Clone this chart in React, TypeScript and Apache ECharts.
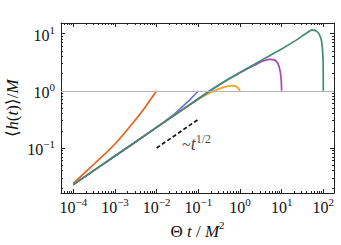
import React, { useEffect, useRef } from "react";
import * as echarts from "echarts";

// axis extents in log10 units
const X_MIN = -4.296;
const X_MAX = 2.257;
const Y_MIN = -1.787;
const Y_MAX = 1.185;

const xDecades = [-4, -3, -2, -1, 0, 1, 2];
const yDecades = [-1, 0, 1];

// log10(Θt/M²) and log10(<h>/M) for each curve
const redX = [-4, -3.5, -3, -2.5, -2.25, -2];
const redY = [-1.62, -1.28, -0.93, -0.5, -0.26, 0];

const blueX = [-4, -3, -2.5, -2.2, -2, -1.8, -1.6, -1.4, -1.2, -1];
const blueY = [-1.64, -1.14, -0.89, -0.74, -0.635, -0.53, -0.42, -0.29, -0.155, 0];

const orangeX = [-4, -3, -2, -1.4, -1, -0.8, -0.6, -0.4, -0.2, -0.12, -0.06, -0.02, 0];
const orangeY = [-1.64, -1.14, -0.64, -0.34, -0.15, -0.065, 0.005, 0.06, 0.09, 0.085, 0.06, 0.025, 0];

const purpleX = [-4, -3, -2, -1, -0.72, -0.4, 0, 0.2, 0.4, 0.55, 0.7, 0.8, 0.88, 0.93, 0.97, 0.99, 1];
const purpleY = [-1.64, -1.14, -0.64, -0.14, 0, 0.15, 0.315, 0.395, 0.465, 0.52, 0.55, 0.545, 0.51, 0.44, 0.32, 0.18, 0];

const greenX = [-4, -3, -2, -1, -0.72, -0.4, 0, 0.36, 0.7, 1, 1.36, 1.5, 1.6, 1.74, 1.86, 1.92, 1.96, 1.985, 1.997, 2];
const greenY = [-1.64, -1.14, -0.64, -0.14, 0, 0.15, 0.32, 0.47, 0.61, 0.73, 0.89, 0.96, 1.01, 1.065, 1.03, 0.96, 0.86, 0.68, 0.4, 0];

const dashX = [-2, -1];
const dashY = [-1, -0.5];

const noteX = -1.39;
const noteY = -0.91;

const FONT = "Liberation Serif";
const FRAME = "#222222";
const INK = "#111111";

const minorTicks = (lo: number, hi: number) => {
  const out: number[] = [];
  for (let n = Math.floor(lo) - 1; n <= Math.ceil(hi); n++) {
    for (let k = 2; k <= 9; k++) {
      const v = n + Math.log10(k);
      if (v > lo && v < hi) out.push(v);
    }
  }
  return out;
};

const sup = (v: number) => (v < 0 ? "\u2212" + Math.abs(v) : String(v));

const labelRich = {
  b: { fontFamily: FONT, fontSize: 16, color: INK, lineHeight: 19, verticalAlign: "bottom" },
  s: { fontFamily: FONT, fontSize: 11, color: INK, lineHeight: 11, verticalAlign: "top" },
};

const pts = (xs: number[], ys: number[]) => xs.map((x, i) => [x, ys[i]]);

export default function App() {
  const ref = useRef<HTMLDivElement>(null);
  useEffect(() => {
    if (!ref.current) return;
    const chart = echarts.init(ref.current, undefined, { renderer: "svg" });
    const xMinor = minorTicks(X_MIN, X_MAX);
    const yMinor = minorTicks(Y_MIN, Y_MAX);

    const xAxisBase = (pos: string, major: boolean, main: boolean) => ({
      type: "value",
      position: pos,
      min: X_MIN,
      max: X_MAX,
      gridIndex: 0,
      axisLine: { show: major, onZero: false, lineStyle: { color: FRAME, width: 1 } },
      axisTick: {
        show: true,
        inside: true,
        length: major ? 4 : 2,
        customValues: major ? xDecades : xMinor,
        lineStyle: { color: FRAME, width: 1 },
      },
      axisLabel: main
        ? {
            show: true,
            customValues: xDecades,
            margin: 3,
            formatter: (v: number) => `{b|10}{s|${sup(Math.round(v))}}`,
            rich: labelRich,
          }
        : { show: false },
      splitLine: { show: false },
      ...(main
        ? {
            name: "{r|\u0398 }{i|t}{r| / }{i|M}{s|2}",
            nameLocation: "middle",
            nameGap: 17,
            nameTextStyle: {
              rich: {
                r: { fontFamily: FONT, fontSize: 17, color: INK, lineHeight: 20, verticalAlign: "bottom" },
                i: { fontFamily: FONT, fontSize: 17, fontStyle: "italic", color: INK, lineHeight: 20, verticalAlign: "bottom" },
                s: { fontFamily: FONT, fontSize: 11, color: INK, lineHeight: 12, verticalAlign: "top" },
              },
            },
          }
        : {}),
    });

    const yAxisBase = (pos: string, major: boolean, main: boolean) => ({
      type: "value",
      position: pos,
      min: Y_MIN,
      max: Y_MAX,
      gridIndex: 0,
      axisLine: { show: major, onZero: false, lineStyle: { color: FRAME, width: 1 } },
      axisTick: {
        show: true,
        inside: true,
        length: major ? 4 : 2,
        customValues: major ? yDecades : yMinor,
        lineStyle: { color: FRAME, width: 1 },
      },
      axisLabel: main
        ? {
            show: true,
            customValues: yDecades,
            margin: 6,
            formatter: (v: number) => `{b|10}{s|${sup(Math.round(v))}}`,
            rich: labelRich,
          }
        : { show: false },
      splitLine: { show: false },
    });

    const lineSeries = (name: string, xs: number[], ys: number[], color: string) => ({
      name,
      type: "line",
      xAxisIndex: 0,
      yAxisIndex: 0,
      data: pts(xs, ys),
      showSymbol: false,
      symbol: "none",
      smooth: 0.3,
      clip: true,
      lineStyle: { color, width: 1.7 },
    });

    chart.setOption({
      animation: false,
      grid: { left: 61, top: 23, right: 7, bottom: 52, containLabel: false },
      graphic: [
        {
          type: "text",
          x: 12,
          y: 108,
          rotation: Math.PI / 2,
          style: {
            text: "{r|\u27E8}{i|h}{r|(}{i|t}{r|)\u27E9/}{i|M}",
            align: "center",
            verticalAlign: "middle",
            rich: {
              r: { fontFamily: FONT, fontSize: 17, fill: INK },
              i: { fontFamily: FONT, fontSize: 17, fontStyle: "italic", fill: INK },
            },
          },
        },
      ],
      xAxis: [
        xAxisBase("bottom", true, true),
        xAxisBase("bottom", false, false),
        xAxisBase("top", true, false),
        xAxisBase("top", false, false),
      ],
      yAxis: [
        yAxisBase("left", true, true),
        yAxisBase("left", false, false),
        yAxisBase("right", true, false),
        yAxisBase("right", false, false),
      ],
      series: [
        {
          type: "line",
          xAxisIndex: 0,
          yAxisIndex: 0,
          data: [],
          markLine: {
            silent: true,
            symbol: "none",
            label: { show: false },
            lineStyle: { color: "#b4b4b4", width: 1, type: "solid" },
            data: [{ yAxis: 0 }],
          },
        },
        lineSeries("red", redX, redY, "#e8621c"),
        lineSeries("blue", blueX, blueY, "#6c72d6"),
        lineSeries("orange", orangeX, orangeY, "#f2a516"),
        lineSeries("purple", purpleX, purpleY, "#a948bd"),
        lineSeries("green", greenX, greenY, "#3f8d74"),
        {
          type: "line",
          xAxisIndex: 0,
          yAxisIndex: 0,
          data: pts(dashX, dashY),
          symbol: "none",
          lineStyle: { color: INK, width: 1.7, type: [4, 2.5] },
        },
        {
          type: "scatter",
          xAxisIndex: 0,
          yAxisIndex: 0,
          data: [[noteX, noteY]],
          symbolSize: 0,
          label: {
            show: true,
            position: "right",
            distance: 0,
            formatter: "{r|~}{i|t}{s|1/2}",
            rich: {
              r: { fontFamily: FONT, fontSize: 16, color: INK, lineHeight: 20, verticalAlign: "bottom" },
              i: { fontFamily: FONT, fontSize: 18, fontStyle: "italic", color: INK, lineHeight: 20, verticalAlign: "bottom" },
              s: { fontFamily: FONT, fontSize: 12, color: INK, lineHeight: 12, verticalAlign: "top" },
            },
          },
        },
      ],
    });
    return () => chart.dispose();
  }, []);
  return (
    <div
      ref={ref}
      style={{ position: "fixed", left: 0, top: 0, width: 341, height: 245, background: "#fff" }}
    />
  );
}
